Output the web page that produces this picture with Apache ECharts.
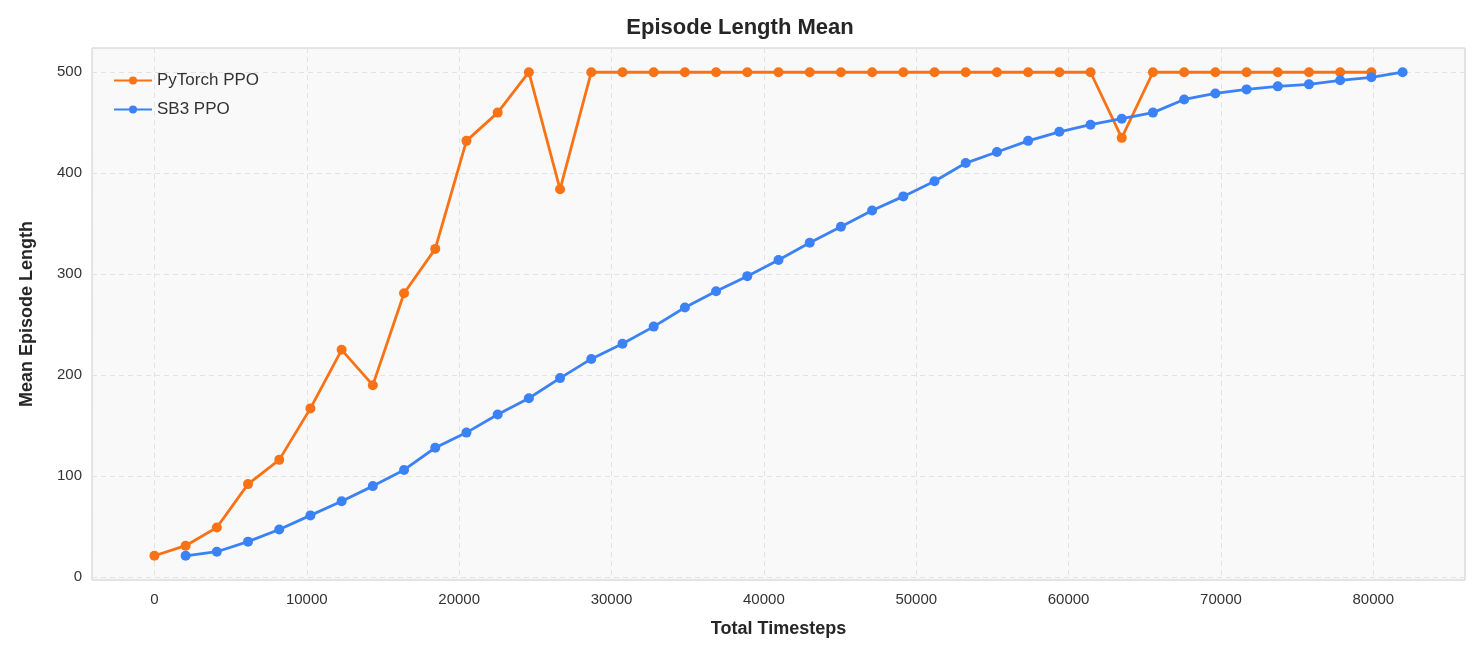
<!DOCTYPE html>
<html><head><meta charset="utf-8">
<script src="https://cdn.jsdelivr.net/npm/echarts@6/dist/echarts.min.js"></script>
<style>html,body{margin:0;padding:0;background:#fff}#c{width:1480px;height:655px}</style>
</head><body><div id="c"></div>
<script>
const step = 2048;
const pytorchValues = [21,31,49,92,116,167,225,190,281,325,432,460,500,384,500,500,500,500,500,500,500,500,500,500,500,500,500,500,500,500,500,435,500,500,500,500,500,500,500,500];
const sb3Values = [21,25,35,47,61,75,90,106,128,143,161,177,197,216,231,248,267,283,298,314,331,347,363,377,392,410,421,432,441,448,454,460,473,479,483,486,488,492,495,500];
const pytorchData = pytorchValues.map((v,i)=>[i*step, v]);
const sb3Data = sb3Values.map((v,i)=>[(i+1)*step, v]);
const font = 'Liberation Sans, Arial, sans-serif';
const chart = echarts.init(document.getElementById('c'));
chart.setOption({
  backgroundColor:'#fff',
  animation:false,
  title:{text:'Episode Length Mean',left:'center',top:12,textStyle:{fontFamily:font,fontSize:22,fontWeight:'bold',color:'#262626'}},
  legend:{left:108,top:67,orient:'vertical',itemGap:12,itemWidth:38,itemHeight:10,textStyle:{fontFamily:font,fontSize:17,color:'#333'},
    data:['PyTorch PPO','SB3 PPO']},
  grid:{left:92,right:15,top:48,bottom:75,show:true,backgroundColor:'#f9f9f9',borderColor:'#cccccc',borderWidth:1},
  xAxis:{type:'value',min:-4096,max:86016,splitNumber:9,name:'Total Timesteps',nameLocation:'middle',nameGap:40,
    nameTextStyle:{fontFamily:font,fontSize:18,fontWeight:'bold',color:'#262626'},
    axisLine:{show:false},axisTick:{show:false},
    axisLabel:{fontFamily:font,fontSize:15,color:'#333',margin:12,formatter:v=>v%10000===0?String(v):''},
    splitLine:{show:true,lineStyle:{color:'#e3e3e3',type:[5,4]}}},
  yAxis:{type:'value',min:-3,max:524,name:'Mean Episode Length',nameLocation:'middle',nameGap:56,
    nameTextStyle:{fontFamily:font,fontSize:18,fontWeight:'bold',color:'#262626'},
    axisLine:{show:false},axisTick:{show:false},
    axisLabel:{fontFamily:font,fontSize:15,color:'#333',margin:10,formatter:v=>v%100===0?String(v):''},
    splitLine:{show:true,lineStyle:{color:'#e3e3e3',type:[5,4]}}},
  series:[
    {name:'PyTorch PPO',type:'line',data:pytorchData,symbol:'circle',symbolSize:10,color:'#f97316',lineStyle:{width:2.8},itemStyle:{color:'#f97316'}},
    {name:'SB3 PPO',type:'line',data:sb3Data,symbol:'circle',symbolSize:10,color:'#3b82f6',lineStyle:{width:2.8},itemStyle:{color:'#3b82f6'}}
  ]
});
</script></body></html>
